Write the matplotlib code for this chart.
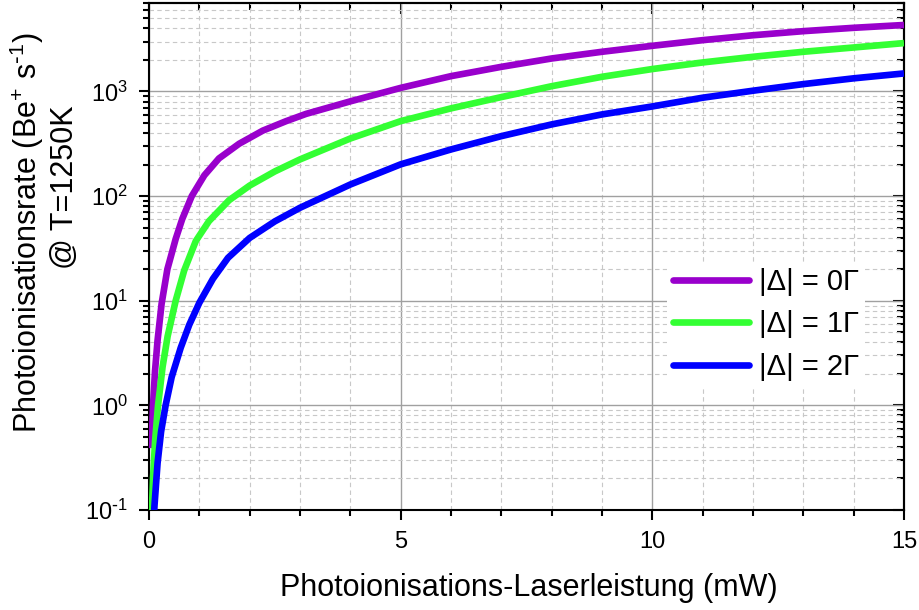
import matplotlib.pyplot as plt
import numpy as np
from matplotlib import ticker

plt.rcParams['font.family'] = ['Liberation Sans', 'DejaVu Sans']
plt.rcParams['mathtext.default'] = 'regular'

# laser power (mW) and photoionisation rate (Be+ per s) for each detuning
power_0 = [0.05, 0.08, 0.12, 0.17, 0.25, 0.365, 0.53, 0.66, 0.85, 1.1, 1.39, 1.79, 2.26,
           2.72, 3.12, 4, 5, 6, 7, 8, 9, 10, 11, 12, 13, 14, 15]
rate_0 = [0.39, 1.0, 2.14, 4.17, 9.33, 20.0, 38.9, 60.3, 100, 158, 229, 316, 422,
          519, 610, 804, 1081, 1400, 1718, 2065, 2393, 2729, 3090, 3443, 3767, 4055, 4315]

power_1 = [0.05, 0.08, 0.12, 0.18, 0.27, 0.37, 0.53, 0.7, 0.93, 1.19, 1.59, 2.0, 2.5,
           3, 4, 5, 6, 7, 8, 9, 10, 11, 12, 13, 14, 15]
rate_1 = [0.078, 0.2, 0.45, 1.0, 2.34, 4.57, 10, 19.5, 37.2, 57.5, 91.2, 126, 172,
          224, 355, 520, 689, 883, 1122, 1380, 1637, 1892, 2143, 2393, 2630, 2897]

power_2 = [0.05, 0.08, 0.11, 0.17, 0.24, 0.33, 0.45, 0.63, 0.8, 1.0, 1.27, 1.57, 2.0, 2.5,
           3, 4, 5, 6, 7, 8, 9, 10, 11, 12, 13, 14, 15]
rate_2 = [0.023, 0.063, 0.112, 0.28, 0.56, 1.0, 1.86, 3.55, 5.89, 9.55, 16.2, 25.7, 39.8, 57.3,
          77.3, 129, 201, 279, 374, 484, 603, 719, 871, 1016, 1175, 1334, 1486]

labels = ['|Δ| = 0Γ', '|Δ| = 1Γ', '|Δ| = 2Γ']
colors = ['#9900cc', '#33ff33', '#0000ff']

ytick_vals = [0.1, 1, 10, 100, 1000]
ytick_labels = ['10$^{\\text{-}1}$', '10$^{0}$', '10$^{1}$', '10$^{2}$', '10$^{3}$']

fig = plt.figure(figsize=(9.2, 6.1), dpi=100)
ax = fig.add_axes([149/920, 100/610, 755/920, 507/610])

for p, r, c, lab in zip([power_0, power_1, power_2], [rate_0, rate_1, rate_2], colors, labels):
    ax.plot(p, r, color=c, lw=4.8, solid_capstyle='butt', solid_joinstyle='round', label=lab, zorder=3)

ax.set_yscale('log')
ax.set_xlim(0, 15)
ax.set_ylim(0.1, 7000)

ax.set_xticks([0, 5, 10, 15])
ax.xaxis.set_minor_locator(ticker.MultipleLocator(1))
ax.set_yticks(ytick_vals)
ax.set_yticklabels(ytick_labels)
ax.yaxis.set_minor_locator(ticker.LogLocator(base=10, subs=np.arange(2, 10), numticks=20))
ax.yaxis.set_minor_formatter(ticker.NullFormatter())

ax.grid(which='major', color='#a0a0a0', lw=1.0, ls='-', zorder=0)
ax.grid(which='minor', color='#c8c8c8', lw=0.8, ls=(0, (4, 3)), zorder=0)
ax.set_axisbelow(True)

ax.tick_params(which='major', direction='out', length=7, width=1.5, labelsize=17, pad=8)
ax.tick_params(which='minor', direction='out', length=4.5, width=1.5)
for s in ax.spines.values():
    s.set_linewidth(1.5)

# mirrored ticks pointing inward on top and right
top = ax.secondary_xaxis('top')
top.set_xticks([0, 5, 10, 15])
top.xaxis.set_minor_locator(ticker.MultipleLocator(1))
top.tick_params(which='major', direction='in', length=8, width=1.5, labeltop=False)
top.tick_params(which='minor', direction='in', length=5, width=1.5)
top.spines['top'].set_linewidth(1.5)

right = ax.secondary_yaxis('right')
right.set_yticks(ytick_vals)
right.yaxis.set_minor_locator(ticker.LogLocator(base=10, subs=np.arange(2, 10), numticks=20))
right.yaxis.set_minor_formatter(ticker.NullFormatter())
right.tick_params(which='major', direction='in', length=8, width=1.5, labelright=False)
right.tick_params(which='minor', direction='in', length=5, width=1.5)
right.spines['right'].set_linewidth(1.5)

leg = ax.legend(loc='upper left', bbox_to_anchor=(0.686, 0.489), borderaxespad=0,
                fontsize=21, frameon=True, fancybox=False, framealpha=1,
                edgecolor='none', facecolor='white', handlelength=2.6,
                handletextpad=0.35, labelspacing=0.5, borderpad=0.2)
for h in leg.get_lines():
    h.set_solid_capstyle('round')

fig.text(27/920, 1 - 233/610, 'Photoionisationsrate (Be$^{+}$ s$^{\\text{-}1}$)', rotation=90,
         ha='center', va='center', fontsize=22)
fig.text(65/920, 1 - 187/610, '@ T=1250K', rotation=90, ha='center', va='center', fontsize=22)
fig.text(529/920, 1 - 588/610, 'Photoionisations-Laserleistung (mW)', ha='center', va='center',
         fontsize=22)

fig.savefig('out.png', dpi=100)
